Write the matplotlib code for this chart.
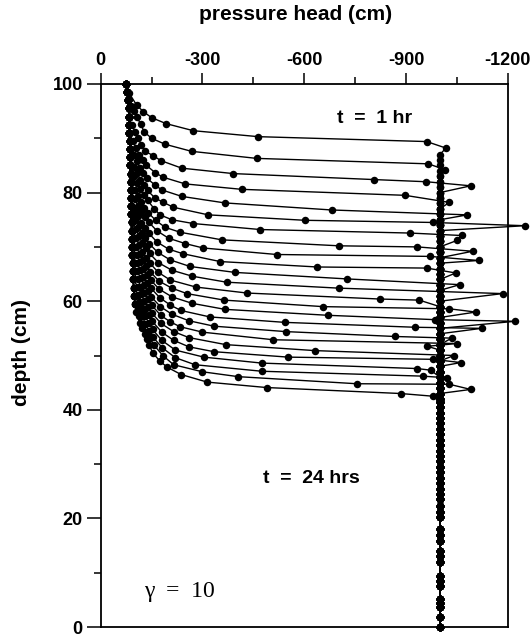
import matplotlib
matplotlib.use('Agg')
import matplotlib.pyplot as plt

plt.rcParams['font.family'] = ['Liberation Sans', 'DejaVu Sans']

# ---------------- data ----------------
x_ticks = [0, -300, -600, -900, -1200]
x_tick_labels = ['0', '-300', '-600', '-900', '-1200']
x_minor = [-150, -450, -750, -1050]
y_ticks = [0, 20, 40, 60, 80, 100]
y_tick_labels = ['0', '20', '40', '60', '80', '100']
y_minor = [10, 30, 50, 70, 90]

h_initial = -1000  # initial pressure head below the wetting front

# wet column near the surface (shared by all profiles above their knee)
wet_d = [100, 98.5, 97, 95.5, 94, 92.5, 91, 89.5, 88, 86.5, 85, 83.5, 82, 80.5,
         79, 77.5, 76, 74.5, 73, 71.5, 70, 68.5, 67, 65.5, 64, 62.5, 61, 59.5,
         58, 56.5]
wet_h = [-76, -79, -81, -82, -83, -84, -84, -85, -86, -86, -87, -88, -88, -89,
         -89, -90, -90, -91, -91, -92, -92, -93, -94, -95, -96, -97, -99, -101,
         -104, -108]

# mesh nodes below the fronts (all at the initial head)
deep_d = [0, 1.9, 3.6, 4.4, 5.1, 7.6, 8.5, 9.4, 11.9, 13.0, 14.0, 15.9, 17.0,
          18.0, 20.2, 21.2, 22.2, 23.5, 24.5, 25.5, 26.5, 27.5, 28.5, 29.5,
          30.5, 31.5, 32.5, 33.5, 34.5, 35.5, 36.5, 37.5, 38.5, 39.5, 40.5,
          41.5, 42.0, 43.0, 44.0, 45.0, 46.0, 47.0, 48.0, 49.0, 50.0, 51.0,
          52.0, 53.0, 54.0, 55.0, 56.0, 57.0, 58.0, 59.0, 60.0, 61.0, 62.0,
          63.0, 64.0, 65.0, 66.0, 67.0, 68.0, 69.0, 70.0, 71.0, 72.0, 73.0,
          74.0, 75.0, 76.0, 77.0, 78.0, 79.0, 80.0, 81.0, 82.0, 83.0, 84.0,
          85.0, 86.0, 87.0]

# knee + front nodes of each hourly profile, t = 1 ... 24 hr
front_h = [
    [-84, -106, -126, -150, -193, -273, -465, -961, -1018],
    [-88, -98, -106, -118, -128, -150, -190, -268, -460, -966, -1016],
    [-92, -101, -110, -120, -131, -155, -177, -239, -391, -806, -960, -1091],
    [-95, -104, -113, -124, -135, -160, -183, -249, -416, -897, -1028],
    [-97, -106, -115, -126, -137, -160, -180, -239, -366, -681, -1081],
    [-98, -107, -116, -127, -138, -160, -185, -214, -317, -602, -979, -1251],
    [-99, -108, -117, -128, -138, -158, -175, -210, -273, -470, -912, -1064, -1051],
    [-100, -109, -118, -129, -140, -162, -190, -234, -357, -703, -933, -1097],
    [-100, -110, -119, -130, -141, -165, -200, -250, -302, -519, -971, -1114],
    [-101, -111, -120, -131, -142, -166, -200, -242, -352, -639, -961, -1047],
    [-102, -112, -121, -132, -143, -168, -205, -263, -396, -727, -1059],
    [-103, -113, -122, -133, -144, -170, -210, -270, -371, -703, -1185],
    [-104, -114, -123, -134, -145, -170, -205, -281, -432, -823, -939],
    [-105, -115, -124, -135, -146, -172, -210, -254, -364, -656, -1028, -1106],
    [-106, -116, -125, -136, -147, -173, -210, -270, -366, -671, -986, -1222],
    [-107, -117, -126, -137, -148, -175, -205, -236, -322, -543, -927, -1123],
    [-108, -118, -127, -138, -149, -176, -210, -260, -334, -546, -868, -1035],
    [-109, -119, -128, -139, -150, -177, -205, -234, -300, -509, -1050, -963],
    [-110, -120, -129, -140, -151, -178, -215, -260, -369, -632, -1042],
    [-111, -121, -130, -141, -152, -180, -215, -260, -334, -553, -979, -1062],
    [-112, -122, -131, -142, -153, -180, -220, -304, -475, -932, -973],
    [-113, -123, -132, -143, -154, -182, -220, -278, -475, -949, -1020],
    [-114, -124, -134, -145, -156, -183, -215, -300, -406, -755, -1028, -1091],
    [-115, -123, -130, -137, -143, -153, -175, -196, -237, -314, -489, -884, -980],
]
front_d = [
    [98.3, 96.1, 94.9, 93.8, 92.7, 91.4, 90.3, 89.4, 88.2],
    [96.0, 95.0, 94.0, 92.6, 91.2, 90.0, 88.9, 87.6, 86.3, 85.3, 84.2],
    [92.5, 91.2, 90.0, 88.8, 87.6, 86.8, 85.9, 84.5, 83.5, 82.4, 82.0, 81.25],
    [89.5, 88.2, 87.0, 86.0, 85.0, 83.7, 82.85, 81.6, 80.6, 79.5, 78.2],
    [87.0, 85.8, 84.6, 83.6, 82.6, 81.4, 80.5, 79.3, 78.1, 76.8, 75.9],
    [84.8, 83.6, 82.4, 81.4, 80.4, 79.0, 78.2, 77.3, 75.9, 74.9, 74.5, 73.9],
    [83.0, 81.8, 80.6, 79.6, 78.6, 77.0, 75.9, 75.0, 74.3, 73.2, 72.55, 72.1, 71.2],
    [80.5, 79.3, 78.2, 77.2, 76.3, 74.9, 73.6, 72.7, 71.3, 70.2, 70.0, 69.2],
    [78.8, 77.6, 76.5, 75.5, 74.6, 73.0, 71.6, 70.6, 69.8, 68.6, 68.25, 67.5],
    [76.8, 75.6, 74.4, 73.4, 72.5, 70.9, 69.6, 68.75, 67.3, 66.3, 66.1, 65.2],
    [75.0, 73.8, 72.6, 71.6, 70.6, 69.0, 67.6, 66.4, 65.3, 64.1, 63.05],
    [73.3, 72.0, 70.8, 69.8, 68.8, 67.1, 65.7, 64.6, 63.5, 62.4, 61.4],
    [71.6, 70.3, 69.1, 68.0, 67.0, 65.3, 63.9, 62.6, 61.5, 60.4, 60.2],
    [70.0, 68.7, 67.5, 66.4, 65.4, 63.7, 62.4, 61.4, 60.2, 59.0, 58.6, 58.0],
    [68.5, 67.2, 66.0, 64.9, 63.9, 62.2, 60.8, 59.6, 58.5, 57.4, 56.6, 56.3],
    [67.0, 65.7, 64.5, 63.4, 62.4, 60.6, 59.3, 58.3, 57.1, 56.1, 55.2, 55.0],
    [65.5, 64.2, 63.0, 61.9, 60.8, 59.0, 57.6, 56.4, 55.4, 54.4, 53.5, 53.2],
    [64.0, 62.7, 61.5, 60.4, 59.3, 57.4, 56.2, 55.3, 54.3, 52.9, 52.2, 51.7],
    [62.6, 61.3, 60.0, 58.9, 57.8, 55.9, 54.4, 53.3, 52.0, 50.9, 50.0],
    [61.2, 59.9, 58.6, 57.4, 56.3, 54.3, 52.8, 51.6, 50.7, 49.7, 49.3, 48.7],
    [59.9, 58.5, 57.2, 56.0, 54.8, 52.8, 51.0, 49.7, 48.6, 47.6, 47.3],
    [58.6, 57.2, 55.8, 54.6, 53.4, 51.4, 49.6, 48.3, 47.1, 46.2, 45.9],
    [57.3, 55.8, 54.4, 53.2, 52.0, 50.0, 48.3, 47.0, 46.1, 44.8, 44.7, 43.75],
    [56.0, 55.0, 54.0, 53.0, 52.0, 50.5, 48.95, 47.85, 46.5, 45.1, 44.1, 43.0, 42.5],
]

# ---------------- figure ----------------
W, H = 532, 643
fig = plt.figure(figsize=(W / 100, H / 100), dpi=100)
ax = fig.add_axes([100.7 / W, 16 / H, 407 / W, 543 / H])

for kh, kd in zip(front_h, front_d):
    top = kd[0]
    bottom = kd[-1]
    hs = [wh for wh, wd in zip(wet_h, wet_d) if wd > top + 0.7]
    ds = [wd for wd in wet_d if wd > top + 0.7]
    hs += kh
    ds += kd
    deep = [dd for dd in deep_d if dd < bottom - 0.4]
    deep = deep[::-1]
    hs += [h_initial] * len(deep)
    ds += deep
    ax.plot(hs, ds, '-o', color='black', lw=1.0, ms=5.4, mew=0,
            clip_on=False, zorder=3)

ax.set_xlim(0, -1200)
ax.set_ylim(0, 100)

ax.xaxis.set_ticks_position('top')
ax.set_xticks(x_ticks)
ax.set_xticklabels(x_tick_labels, fontweight='bold', fontsize=13)
ax.set_xticks(x_minor, minor=True)
ax.set_yticks(y_ticks)
ax.set_yticklabels(y_tick_labels, fontweight='bold', fontsize=13)
ax.set_yticks(y_minor, minor=True)

ax.tick_params(axis='x', which='major', direction='out', length=8, width=1.1, pad=3)
ax.tick_params(axis='x', which='minor', direction='out', length=5, width=1.1)
ax.tick_params(axis='y', which='major', direction='out', length=10, width=1.1, pad=3)
ax.tick_params(axis='y', which='minor', direction='out', length=5, width=1.1)
for s in ax.spines.values():
    s.set_linewidth(1.3)

fig.text(296 / W, 1 - 14 / H, 'pressure head (cm)', ha='center', va='center',
         fontsize=15, fontweight='bold')
fig.text(22 / W, 1 - 352 / H, 'depth (cm)', ha='center', va='center',
         rotation=90, fontsize=15, fontweight='bold')

ax.text(-806, 93.7, 't  =  1 hr', ha='center', va='center', fontsize=14,
        fontweight='bold')
ax.text(-620, 27.4, 't  =  24 hrs', ha='center', va='center', fontsize=14,
        fontweight='bold')
ax.text(-231, 6.6, 'γ  =  10', ha='center', va='center', fontsize=17,
        family=['Liberation Serif', 'DejaVu Serif'])

fig.savefig('out.png', dpi=100)
